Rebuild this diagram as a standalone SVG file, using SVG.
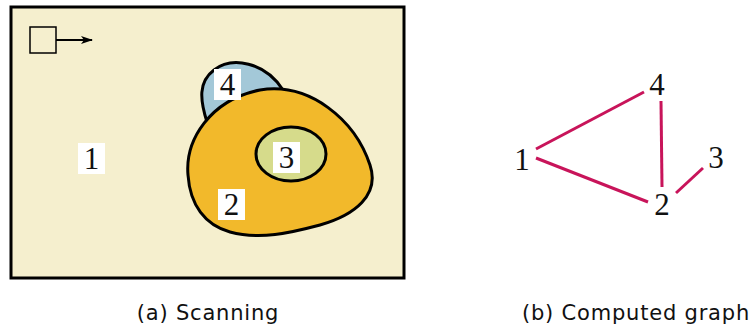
<svg xmlns="http://www.w3.org/2000/svg" width="753" height="331" viewBox="0 0 753 331">
<style>
.lbl{font-family:"Liberation Serif","DejaVu Serif",serif;font-size:31px;fill:#111;text-anchor:middle}
.cap{font-family:"DejaVu Sans","Liberation Sans",sans-serif;font-size:21px;letter-spacing:0.8px;fill:#111;text-anchor:middle}
.box{fill:#fff}
.edge{stroke:#C8145A;stroke-width:3;fill:none}
.reg{stroke:#000;stroke-width:3}
</style>
<defs>
<marker id="ah" markerWidth="12" markerHeight="8" refX="11" refY="4" orient="auto" markerUnits="userSpaceOnUse">
<path d="M0,0 L12,4 L0,8 L3,4 Z" fill="#000"/>
</marker>
</defs>
<g id="scan">
<rect x="11" y="7" width="393" height="271" fill="#F5EFCE" stroke="#000" stroke-width="3"/>
<rect x="30" y="27" width="26" height="26" fill="none" stroke="#000" stroke-width="1.5"/>
<line x1="56" y1="40" x2="92" y2="40" stroke="#000" stroke-width="2" marker-end="url(#ah)"/>
</g>
<g id="region4">
<path class="reg" fill="#A3C8D8" d="M207,122 C200,100 198,82 214,70 C232,56 265,62 283,90 L250,110 Z"/>
</g>
<g id="region2">
<path class="reg" fill="#F2B92B" d="M188,175 C185,140 210,100 260,90 C310,82 355,120 370,165 C380,195 355,215 320,225 C290,233 260,240 230,232 C205,225 190,205 188,175 Z"/>
</g>
<g id="region3">
<ellipse class="reg" cx="291" cy="154" rx="35" ry="27" fill="#D6DB8B"/>
</g>
<g id="label1"><rect class="box" x="78" y="143" width="27" height="31"/><text class="lbl" x="91.5" y="169">1</text></g>
<g id="label2"><rect class="box" x="218" y="189" width="27" height="31"/><text class="lbl" x="231.5" y="215">2</text></g>
<g id="label3"><rect class="box" x="273" y="142" width="27" height="31"/><text class="lbl" x="286.5" y="168">3</text></g>
<g id="label4"><rect class="box" x="214" y="69" width="27" height="31"/><text class="lbl" x="227.5" y="95">4</text></g>
<g id="edges">
<line class="edge" x1="536" y1="149" x2="644" y2="92"/>
<line class="edge" x1="536" y1="158" x2="648" y2="202"/>
<line class="edge" x1="661" y1="101" x2="662" y2="187"/>
<line class="edge" x1="676" y1="193" x2="703" y2="168"/>
</g>
<g id="g1"><text class="lbl" x="522" y="170">1</text></g>
<g id="g2"><text class="lbl" x="662" y="215">2</text></g>
<g id="g3"><text class="lbl" x="716" y="168">3</text></g>
<g id="g4"><text class="lbl" x="657" y="95">4</text></g>
<text class="cap" x="208" y="320">(a) Scanning</text>
<text class="cap" x="636" y="320">(b) Computed graph</text>
</svg>
